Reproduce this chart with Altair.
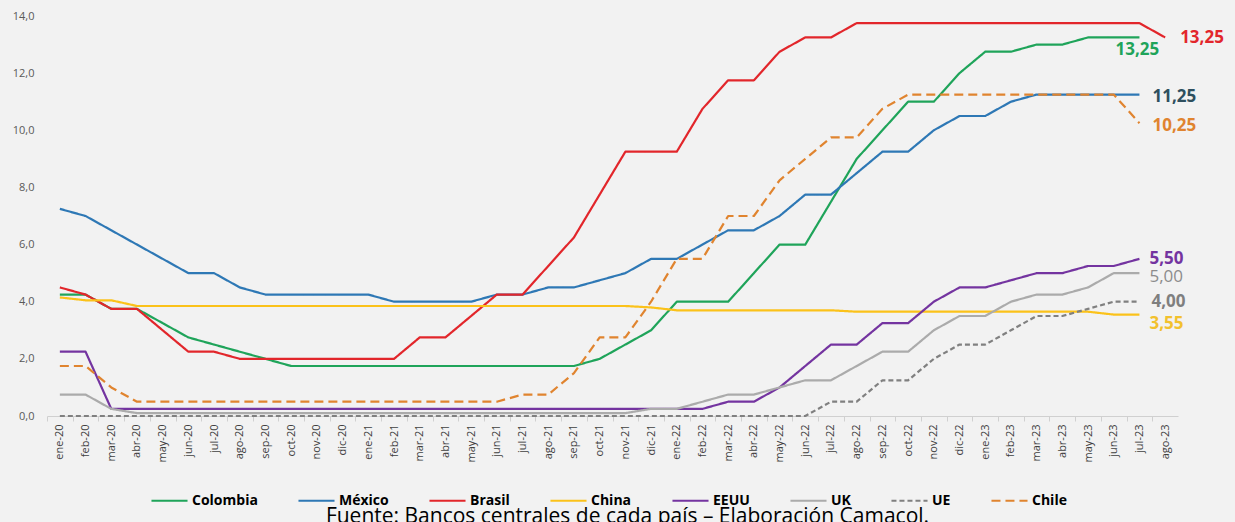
import altair as alt
import pandas as pd

# Monthly policy rates (%) by country, January 2020 - August 2023
months = [
    "ene-20", "feb-20", "mar-20", "abr-20", "may-20", "jun-20", "jul-20", "ago-20", "sep-20", "oct-20", "nov-20", "dic-20",
    "ene-21", "feb-21", "mar-21", "abr-21", "may-21", "jun-21", "jul-21", "ago-21", "sep-21", "oct-21", "nov-21", "dic-21",
    "ene-22", "feb-22", "mar-22", "abr-22", "may-22", "jun-22", "jul-22", "ago-22", "sep-22", "oct-22", "nov-22", "dic-22",
    "ene-23", "feb-23", "mar-23", "abr-23", "may-23", "jun-23", "jul-23", "ago-23",
]

colombia = [4.25, 4.25, 3.75, 3.75, 3.25, 2.75, 2.5, 2.25, 2.0, 1.75, 1.75, 1.75,
            1.75, 1.75, 1.75, 1.75, 1.75, 1.75, 1.75, 1.75, 1.75, 2.0, 2.5, 3.0,
            4.0, 4.0, 4.0, 5.0, 6.0, 6.0, 7.5, 9.0, 10.0, 11.0, 11.0, 12.0,
            12.75, 12.75, 13.0, 13.0, 13.25, 13.25, 13.25]
mexico = [7.25, 7.0, 6.5, 6.0, 5.5, 5.0, 5.0, 4.5, 4.25, 4.25, 4.25, 4.25,
          4.25, 4.0, 4.0, 4.0, 4.0, 4.25, 4.25, 4.5, 4.5, 4.75, 5.0, 5.5,
          5.5, 6.0, 6.5, 6.5, 7.0, 7.75, 7.75, 8.5, 9.25, 9.25, 10.0, 10.5,
          10.5, 11.0, 11.25, 11.25, 11.25, 11.25, 11.25]
brasil = [4.5, 4.25, 3.75, 3.75, 3.0, 2.25, 2.25, 2.0, 2.0, 2.0, 2.0, 2.0,
          2.0, 2.0, 2.75, 2.75, 3.5, 4.25, 4.25, 5.25, 6.25, 7.75, 9.25, 9.25,
          9.25, 10.75, 11.75, 11.75, 12.75, 13.25, 13.25, 13.75, 13.75, 13.75, 13.75, 13.75,
          13.75, 13.75, 13.75, 13.75, 13.75, 13.75, 13.75, 13.25]
china = [4.15, 4.05, 4.05, 3.85, 3.85, 3.85, 3.85, 3.85, 3.85, 3.85, 3.85, 3.85,
         3.85, 3.85, 3.85, 3.85, 3.85, 3.85, 3.85, 3.85, 3.85, 3.85, 3.85, 3.8,
         3.7, 3.7, 3.7, 3.7, 3.7, 3.7, 3.7, 3.65, 3.65, 3.65, 3.65, 3.65,
         3.65, 3.65, 3.65, 3.65, 3.65, 3.55, 3.55]
eeuu = [2.25, 2.25, 0.25, 0.25, 0.25, 0.25, 0.25, 0.25, 0.25, 0.25, 0.25, 0.25,
        0.25, 0.25, 0.25, 0.25, 0.25, 0.25, 0.25, 0.25, 0.25, 0.25, 0.25, 0.25,
        0.25, 0.25, 0.5, 0.5, 1.0, 1.75, 2.5, 2.5, 3.25, 3.25, 4.0, 4.5,
        4.5, 4.75, 5.0, 5.0, 5.25, 5.25, 5.5]
uk = [0.75, 0.75, 0.25, 0.1, 0.1, 0.1, 0.1, 0.1, 0.1, 0.1, 0.1, 0.1,
      0.1, 0.1, 0.1, 0.1, 0.1, 0.1, 0.1, 0.1, 0.1, 0.1, 0.1, 0.25,
      0.25, 0.5, 0.75, 0.75, 1.0, 1.25, 1.25, 1.75, 2.25, 2.25, 3.0, 3.5,
      3.5, 4.0, 4.25, 4.25, 4.5, 5.0, 5.0]
ue = [0.0, 0.0, 0.0, 0.0, 0.0, 0.0, 0.0, 0.0, 0.0, 0.0, 0.0, 0.0,
      0.0, 0.0, 0.0, 0.0, 0.0, 0.0, 0.0, 0.0, 0.0, 0.0, 0.0, 0.0,
      0.0, 0.0, 0.0, 0.0, 0.0, 0.0, 0.5, 0.5, 1.25, 1.25, 2.0, 2.5,
      2.5, 3.0, 3.5, 3.5, 3.75, 4.0, 4.0]
chile = [1.75, 1.75, 1.0, 0.5, 0.5, 0.5, 0.5, 0.5, 0.5, 0.5, 0.5, 0.5,
         0.5, 0.5, 0.5, 0.5, 0.5, 0.5, 0.75, 0.75, 1.5, 2.75, 2.75, 4.0,
         5.5, 5.5, 7.0, 7.0, 8.25, 9.0, 9.75, 9.75, 10.75, 11.25, 11.25, 11.25,
         11.25, 11.25, 11.25, 11.25, 11.25, 11.25, 10.25]

series_names = ["Colombia", "México", "Brasil", "China", "EEUU", "UK", "UE", "Chile"]
series_values = [colombia, mexico, brasil, china, eeuu, uk, ue, chile]

# Line styles per series
line_colors = ["#1FA45A", "#2E78B5", "#E2262B", "#FBC21A", "#7434A0", "#ABABAB", "#808080", "#E0842F"]
line_dashes = [[1, 0], [1, 0], [1, 0], [1, 0], [1, 0], [1, 0], [5, 3], [9, 5]]
line_widths = [2.2, 2.2, 2.2, 3.8, 2.2, 2.2, 2.0, 3.6]

rows = []
for name, vals in zip(series_names, series_values):
    for i, v in enumerate(vals):
        rows.append({"serie": name, "mes": months[i], "idx": i, "tasa": v})
df = pd.DataFrame(rows)

W, H = 1131, 400
step = W / len(months)

x_enc = alt.X(
    "mes:O",
    sort=months,
    scale=alt.Scale(type="point", domain=months, padding=0.5),
    axis=alt.Axis(
        title=None, labelAngle=270, labelFontSize=11, labelColor="#404040",
        labelFont="Open Sans", domainColor="#D0D0D0", tickColor="#D0D0D0",
        tickSize=5, tickOffset=-step / 2, labelOffset=step / 2, labelPadding=3,
        grid=False,
    ),
)
y_enc = alt.Y(
    "tasa:Q",
    scale=alt.Scale(domain=[0, 14], nice=False),
    axis=alt.Axis(
        title=None, values=[0, 2, 4, 6, 8, 10, 12, 14], grid=False, domain=False,
        ticks=False, labelFontSize=11, labelColor="#595959", labelFont="Open Sans",
        labelPadding=13,
        labelExpr="replace(format(datum.value, '.1f'), '.', ',')",
    ),
)

lines = alt.Chart(df).mark_line(strokeJoin="round").encode(
    x=x_enc,
    y=y_enc,
    color=alt.Color("serie:N", scale=alt.Scale(domain=series_names, range=line_colors),
                    legend=alt.Legend(title=None)),
    strokeDash=alt.StrokeDash("serie:N", scale=alt.Scale(domain=series_names, range=line_dashes),
                              legend=alt.Legend(title=None)),
    strokeWidth=alt.StrokeWidth("serie:N", scale=alt.Scale(domain=series_names, range=line_widths),
                                legend=alt.Legend(title=None)),
    order=alt.Order("idx:Q"),
)

# End-of-series value labels
last = pd.DataFrame([
    {"serie": n, "mes": months[len(v) - 1], "tasa": v[-1],
     "txt": f"{v[-1]:.2f}".replace(".", ",")}
    for n, v in zip(series_names, series_values)
])

label_style = {
    "Brasil":   dict(color="#E2262B", dx=15, dy=1, bold=True),
    "Colombia": dict(color="#1FA45A", dx=-24, dy=13, bold=True),
    "México":   dict(color="#2E4F5E", dx=13, dy=2, bold=True),
    "Chile":    dict(color="#E0842F", dx=13, dy=3, bold=True),
    "EEUU":     dict(color="#7434A0", dx=10, dy=0, bold=True),
    "UK":       dict(color="#8C8C8C", dx=10, dy=4, bold=False),
    "UE":       dict(color="#7F7F7F", dx=12, dy=0, bold=True),
    "China":    dict(color="#F2C12E", dx=10, dy=9, bold=True),
}

label_layers = []
for name, st in label_style.items():
    label_layers.append(
        alt.Chart(last[last["serie"] == name]).mark_text(
            align="left", baseline="middle", font="Open Sans", fontSize=17,
            fontWeight="bold" if st["bold"] else "normal",
            color=st["color"], dx=st["dx"], dy=st["dy"],
        ).encode(
            x=alt.X("mes:O", sort=months, scale=alt.Scale(type="point", domain=months, padding=0.5)),
            y=alt.Y("tasa:Q"),
            text="txt:N",
        )
    )

source_note = alt.Chart(pd.DataFrame({"t": ["Fuente: Bancos centrales de cada país – Elaboración Camacol."]})).mark_text(
    align="center", baseline="alphabetic", font="Open Sans", fontSize=21, color="#000000",
).encode(x=alt.value(W / 2 + 15), y=alt.value(507), text="t:N")

chart = alt.layer(lines, *label_layers, source_note).properties(
    width=W, height=H,
    autosize=alt.AutoSizeParams(type="none"),
    padding={"left": 47, "top": 16, "right": 57, "bottom": 106},
    background="#F2F2F2",
).configure_view(stroke=None).configure_legend(
    orient="none", legendX=103, legendY=465, direction="horizontal", columns=8,
    symbolType="stroke", symbolSize=1300, labelFont="Open Sans", labelFontWeight="bold",
    labelFontSize=14, labelColor="#000000", columnPadding=36, labelOffset=3,
)

chart.save("out.html", embed_options={"renderer": "svg", "actions": False})
